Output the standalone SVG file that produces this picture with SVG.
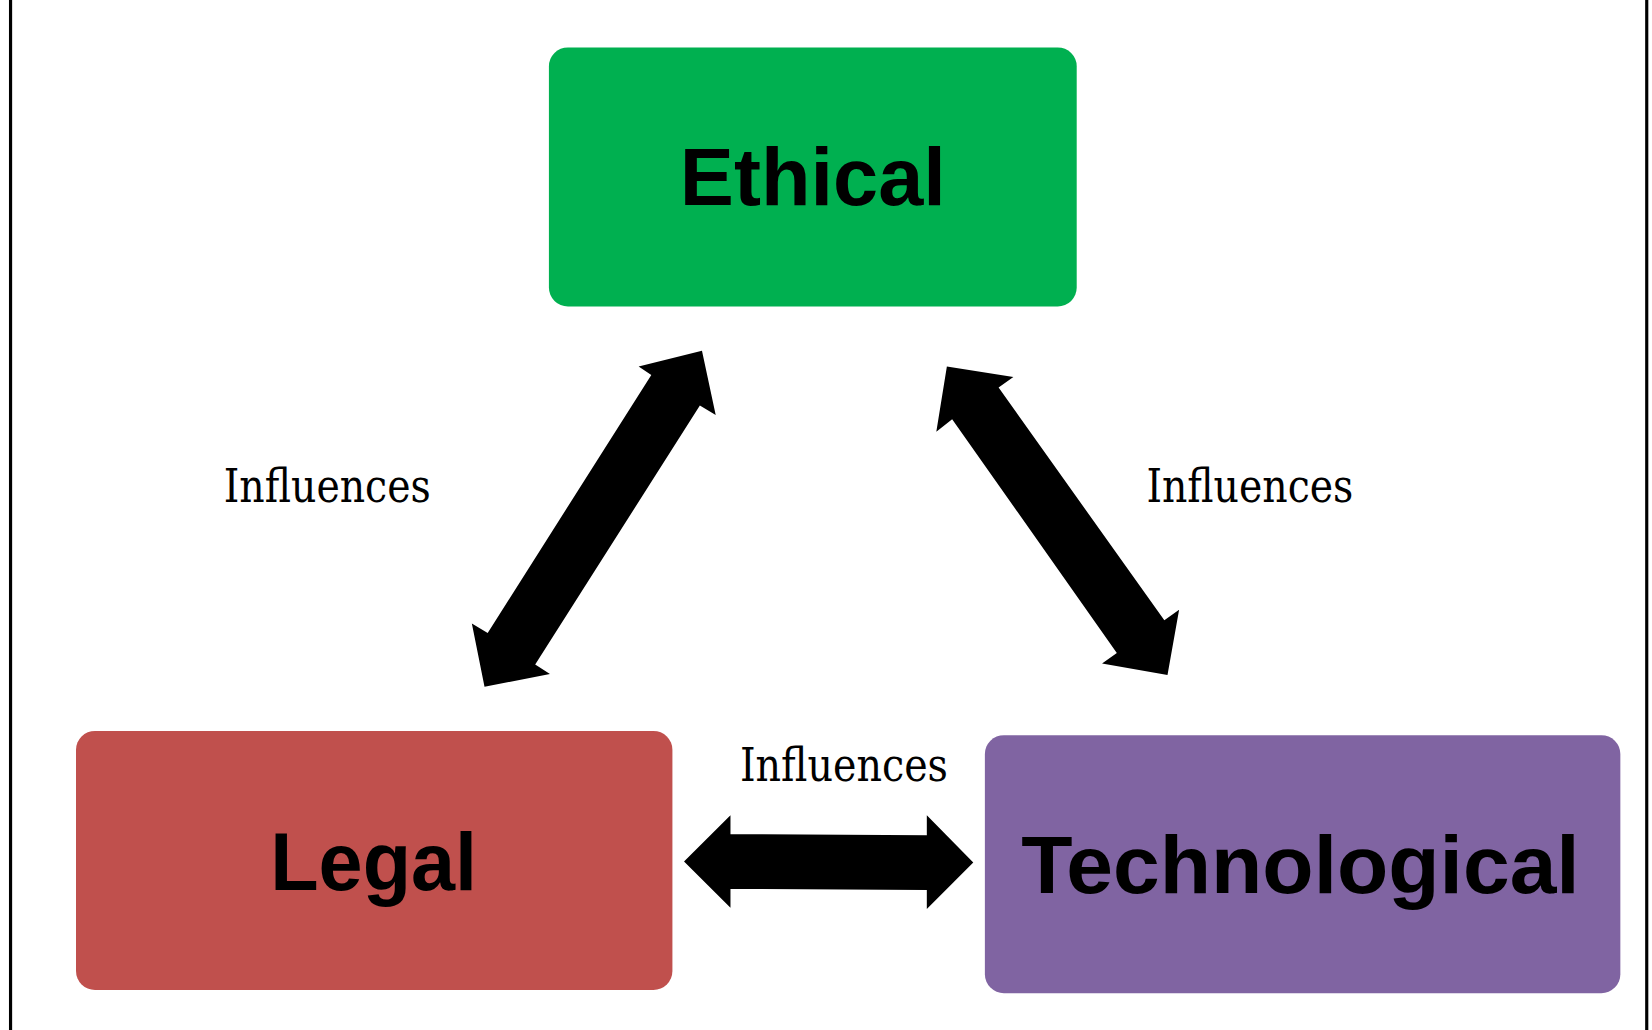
<svg xmlns="http://www.w3.org/2000/svg" width="1652" height="1030" viewBox="0 0 1652 1030">
<style>
.box{stroke:none}
.lbl{font-family:"Liberation Sans",Arial,sans-serif;font-weight:bold;font-size:78px;fill:#000;text-anchor:middle}
.inf{font-family:"DejaVu Serif Condensed","DejaVu Serif",serif;font-size:44px;fill:#000}
.arr{fill:#000}
</style>
<rect width="1652" height="1030" fill="#fff"/>
<g transform="scale(1.0556 1.0532)">
<line x1="10" y1="0" x2="10" y2="980" stroke="#000" stroke-width="3"/>
<line x1="1560" y1="0" x2="1560" y2="980" stroke="#000" stroke-width="3"/>
<g id="ethical"><rect class="box" x="520" y="45" width="500" height="246" rx="18" fill="#00b050"/><text class="lbl" x="770" y="195" textLength="252" lengthAdjust="spacingAndGlyphs">Ethical</text></g>
<g id="legal"><rect class="box" x="72" y="694" width="565" height="246" rx="18" fill="#c0504d"/><text class="lbl" x="354" y="845" textLength="196" lengthAdjust="spacingAndGlyphs">Legal</text></g>
<g id="technological"><rect class="box" x="933" y="698" width="602" height="245" rx="18" fill="#8064a2"/><text class="lbl" x="1232" y="848" textLength="529" lengthAdjust="spacingAndGlyphs">Technological</text></g>
<g id="connectors">
<polygon class="arr" points="665,333 678,394 663,385 507,631 521,640 459,652 447,592 462,601 617,356 605,348"/>
<polygon class="arr" points="897,348 960,358 946,368 1103,589 1117,579 1106,641 1044,630 1058,620 902,398 887,410"/>
<polygon class="arr" points="648,818 692,774 692,792 878,793 878,774 922,819 878,863 878,845 692,844 692,862"/>
<text class="inf" x="212" y="477" textLength="196" lengthAdjust="spacingAndGlyphs">Influences</text>
<text class="inf" x="1086" y="477" textLength="196" lengthAdjust="spacingAndGlyphs">Influences</text>
<text class="inf" x="701" y="742" textLength="197" lengthAdjust="spacingAndGlyphs">Influences</text>
</g>
</g>
</svg>
